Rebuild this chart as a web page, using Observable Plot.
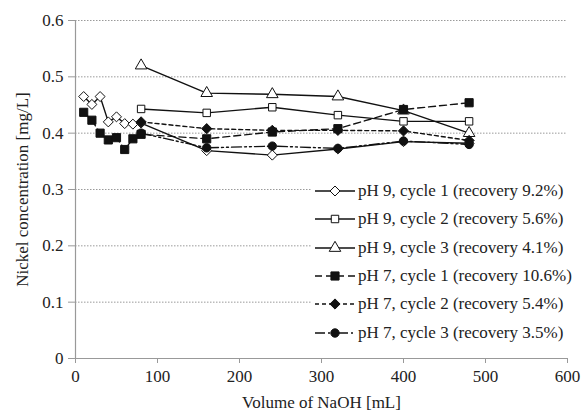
<!DOCTYPE html>
<html>
<head>
<meta charset="utf-8">
<script src="https://cdn.jsdelivr.net/npm/d3@7"></script>
<script src="https://cdn.jsdelivr.net/npm/@observablehq/plot@0.6"></script>
<style>
  body { margin: 0; background: #fff; }
  #wrap { position: relative; width: 584px; height: 412px; font-family: "Liberation Serif", serif; }
  #legend { position: absolute; left: 311px; top: 177px; width: 266px; background: #fff; }
  .row { height: 28.3px; display: flex; align-items: center; font-size: 17px; color: #222; white-space: nowrap; }
  .row svg { flex: none; margin-right: 3px; }
</style>
</head>
<body>
<div id="wrap"></div>
<script>
// ---- data ----
const xEarly = [10, 20, 30, 40, 50, 60, 70, 80, 160, 240, 320, 400, 480];
const xLate = [80, 160, 240, 320, 400, 480];
const ph9c1 = [0.465, 0.451, 0.465, 0.420, 0.429, 0.417, 0.416, 0.418, 0.369, 0.361, 0.372, 0.385, 0.382];
const ph9c2 = [0.443, 0.436, 0.446, 0.432, 0.421, 0.421];
const ph9c3 = [0.520, 0.471, 0.469, 0.465, 0.440, 0.400];
const ph7c1 = [0.437, 0.423, 0.400, 0.388, 0.392, 0.371, 0.390, 0.398, 0.390, 0.402, 0.408, 0.442, 0.454];
const ph7c2 = [0.420, 0.408, 0.405, 0.405, 0.404, 0.387];
const ph7c3 = [0.400, 0.374, 0.377, 0.373, 0.386, 0.380];
const seriesNames = [
  "pH 9, cycle 1 (recovery 9.2%)",
  "pH 9, cycle 2 (recovery 5.6%)",
  "pH 9, cycle 3 (recovery 4.1%)",
  "pH 7, cycle 1 (recovery 10.6%)",
  "pH 7, cycle 2 (recovery 5.4%)",
  "pH 7, cycle 3 (recovery 3.5%)"
];
const yTicks = [0, 0.1, 0.2, 0.3, 0.4, 0.5, 0.6];
const xTicks = [0, 100, 200, 300, 400, 500, 600];

// ---- styles per series ----
const seriesX = [xEarly, xLate, xLate, xEarly, xLate, xLate];
const seriesY = [ph9c1, ph9c2, ph9c3, ph7c1, ph7c2, ph7c3];
const styles = [
  {symbol: "diamond2", fill: "#fff", r: 4.5, dash: null},
  {symbol: "square", fill: "#fff", r: 4.2, dash: null},
  {symbol: "triangle", fill: "#fff", r: 4.3, dash: null},
  {symbol: "square", fill: "#111", r: 4.6, dash: "7,4"},
  {symbol: "diamond2", fill: "#111", r: 4.6, dash: "4,3"},
  {symbol: "circle", fill: "#111", r: 4.2, dash: "10,3,2,3,2,3"}
];

const series = seriesNames.map((name, i) =>
  seriesX[i].map((x, j) => ({series: name, x, y: seriesY[i][j]}))
);

const marks = [
  Plot.ruleY(yTicks.filter(d => d > 0), {stroke: "#9a9a9a", strokeDasharray: "1.5,1.5", strokeWidth: 1}),
  Plot.ruleY([0], {stroke: "#999", strokeWidth: 1.2}),
  Plot.ruleX([0], {stroke: "#999", strokeWidth: 1.2}),
  Plot.axisY({ticks: yTicks, tickSize: 7, tickPadding: 5, stroke: "#999", fill: "#222",
    tickFormat: d => d === 0 ? "0" : d3.format(".1f")(d),
    label: "Nickel concentration [mg/L]", labelAnchor: "center", labelArrow: "none", labelOffset: 60}),
  Plot.axisX({ticks: xTicks, tickSize: 5, tickPadding: 6, stroke: "#999", fill: "#222",
    tickFormat: d => String(d),
    label: "Volume of NaOH [mL]", labelAnchor: "center", labelArrow: "none", labelOffset: 49})
];
series.forEach((data, i) => {
  const s = styles[i];
  marks.push(Plot.line(data, {x: "x", y: "y", stroke: "#111", strokeWidth: 1.4,
    strokeDasharray: s.dash, curve: "linear"}));
  marks.push(Plot.dot(data, {x: "x", y: "y", symbol: s.symbol, fill: s.fill,
    stroke: "#111", strokeWidth: 1, r: s.r}));
});

const chart = Plot.plot({
  width: 584, height: 412,
  marginLeft: 75, marginRight: 17, marginTop: 20, marginBottom: 54,
  style: {fontFamily: "Liberation Serif", fontSize: "17px", background: "#fff", color: "#222"},
  x: {domain: [0, 600]},
  y: {domain: [0, 0.6]},
  marks
});
const wrap = document.getElementById("wrap");
wrap.appendChild(chart);

// ---- legend ----
const legend = document.createElement("div");
legend.id = "legend";
const symMap = {diamond2: d3.symbolDiamond2, square: d3.symbolSquare, triangle: d3.symbolTriangle, circle: d3.symbolCircle};
seriesNames.forEach((name, i) => {
  const s = styles[i];
  const row = document.createElement("div");
  row.className = "row";
  const svg = d3.create("svg").attr("width", 44).attr("height", 20);
  svg.append("line").attr("x1", 4).attr("x2", 44).attr("y1", 10).attr("y2", 10)
    .attr("stroke", "#111").attr("stroke-width", 1.4)
    .attr("stroke-dasharray", s.dash);
  svg.append("path").attr("d", d3.symbol(symMap[s.symbol], Math.PI * s.r * s.r)())
    .attr("transform", "translate(24,10)")
    .attr("fill", s.fill).attr("stroke", "#111").attr("stroke-width", 1);
  row.appendChild(svg.node());
  const span = document.createElement("span");
  span.textContent = name;
  row.appendChild(span);
  legend.appendChild(row);
});
wrap.appendChild(legend);
</script>
</body>
</html>
